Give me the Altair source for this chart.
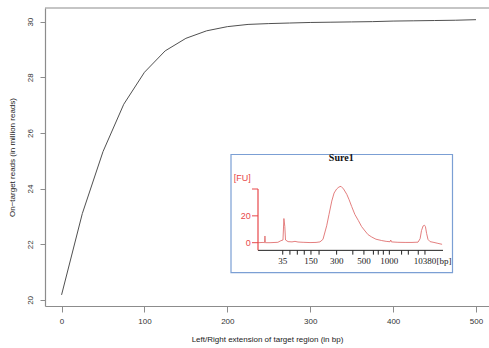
import altair as alt
import pandas as pd

# ---------------- main curve data ----------------
ext_bp = [0, 25, 50, 75, 100, 125, 150, 175, 200, 225, 250, 275, 300,
          325, 350, 375, 400, 425, 450, 475, 500]
reads_m = [20.18, 23.10, 25.33, 27.03, 28.18, 28.95, 29.40, 29.67, 29.82,
           29.90, 29.93, 29.95, 29.97, 29.98, 29.99, 30.00, 30.02, 30.03,
           30.04, 30.05, 30.07]
x_ticks = [0, 100, 200, 300, 400, 500]
y_ticks = [20, 22, 24, 26, 28, 30]

# ---------------- inset (electropherogram) data ----------------
trace_t = [40.0, 42.2, 42.8, 43.0, 43.2, 45.2, 48.6, 49.9, 50.8, 51.2, 51.6,
           51.9, 53.0, 54.7, 56.0, 57.3, 59.5, 62.5, 65.1, 66.8, 68.1, 69.7,
           70.7, 71.9, 72.9, 74.0, 75.0, 75.9, 77.0, 78.4, 79.4, 80.5, 81.9,
           83.4, 84.8, 86.3, 87.6, 89.2, 91.0, 93.5, 95.4, 97.1, 97.4, 97.7,
           100.5, 103.6, 106.6, 109.2, 110.1, 110.7, 111.4, 112.0, 112.4,
           112.9, 113.5, 114.4, 116.1, 117.8, 119.6]
trace_fu = [0.0, 0.2, 0.0, 5.0, 0.0, 0.0, 0.3, 1.5, 2.0, 18.0, 12.0,
            2.0, 0.8, 0.6, 1.0, 0.5, 0.3, 0.1, 0.2, 0.6, 2.5, 12.6,
            21.0, 31.0, 37.0, 40.0, 41.5, 42.0, 40.0, 36.0, 32.0, 27.0, 21.0,
            16.5, 12.0, 8.7, 6.0, 4.2, 2.6, 1.6, 1.0, 0.7, 2.0, 0.6,
            0.3, 0.2, 0.2, 0.4, 3.0, 9.0, 12.5, 13.0, 12.0,
            7.0, 2.5, 0.8, 0.2, -0.5, -1.2]
bp_tick_t = [50.7, 53.8, 57.0, 60.0, 62.9, 66.4, 74.0, 81.0, 85.8, 89.9,
             92.0, 94.2, 96.8, 102.1, 105.0, 109.3, 112.2]
bp_label_t = [50.7, 62.9, 74.0, 85.8, 96.8, 112.2, 120.4]
bp_labels = ["35", "150", "300", "500", "1000", "10380", "[bp]"]
fu_ticks = [0, 20, 40]
fu_label_v = [0, 20]
fu_labels = ["0", "20"]

W, H = 444, 298
GRAY = "#8c8c8c"
RED = "#e8474a"

# ---------------- main chart ----------------
df_main = pd.DataFrame({"ext": ext_bp, "reads": reads_m})
one = pd.DataFrame({"a": [0]})

xs = alt.Scale(domain=[-20, 515.7], nice=False, zero=False)
ys = alt.Scale(domain=[19.78, 30.49], nice=False, zero=False)

main_line = alt.Chart(df_main).mark_line(color="#505050", strokeWidth=1).encode(
    x=alt.X("ext:Q", scale=xs,
            axis=alt.Axis(values=x_ticks, title="Left/Right extension of target region (in bp)",
                          grid=False, domainColor=GRAY, domainWidth=1.2, tickColor=GRAY,
                          tickSize=6, labelPadding=5, labelFont="Liberation Sans",
                          labelFontSize=8, labelColor="#333333", titleFont="Liberation Sans",
                          titleFontSize=8, titleFontWeight="normal", titleColor="#222222",
                          titlePadding=10)),
    y=alt.Y("reads:Q", scale=ys,
            axis=alt.Axis(values=y_ticks, title="On\u2212target reads (in million reads)",
                          grid=False, domainColor=GRAY, domainWidth=1.2, tickColor=GRAY,
                          tickSize=5, labelAngle=270, labelAlign="center", labelBaseline="bottom",
                          labelPadding=6, labelFont="Liberation Sans",
                          labelFontSize=8, labelColor="#333333", titleFont="Liberation Sans",
                          titleFontSize=8, titleFontWeight="normal", titleColor="#222222",
                          titlePadding=10)),
)

top_rule = alt.Chart(one).mark_rule(color=GRAY, strokeWidth=1.2).encode(
    x=alt.value(0), x2=alt.value(W), y=alt.value(0))

main = alt.layer(top_rule, main_line)

# ---------------- inset ----------------
txs = alt.Scale(domain=[40, 120], range=[213, 398], nice=False, zero=False)
tys = alt.Scale(domain=[0, 40], range=[234.7, 181], nice=False, zero=False)

box = alt.Chart(one).mark_rect(fill="white", stroke="#7b9fd4", strokeWidth=1.2).encode(
    x=alt.value(186), x2=alt.value(407.5), y=alt.value(146.5), y2=alt.value(264.7))

df_trace = pd.DataFrame({"t": trace_t, "fu": trace_fu})
trace = alt.Chart(df_trace).mark_line(color="#e07070", strokeWidth=0.9).encode(
    x=alt.X("t:Q", scale=txs, axis=None),
    y=alt.Y("fu:Q", scale=tys, axis=None),
    order="t:Q")

xaxis_df = pd.DataFrame({"t": [40], "t2": [120], "fu": [-5.7]})
xaxis_line = alt.Chart(xaxis_df).mark_rule(color="#222222", strokeWidth=1).encode(
    x=alt.X("t:Q", scale=txs, axis=None), x2="t2:Q",
    y=alt.Y("fu:Q", scale=tys, axis=None))

xt_df = pd.DataFrame({"t": bp_tick_t, "y0": -5.7, "y1": -8.9})
xaxis_ticks = alt.Chart(xt_df).mark_rule(color="#222222", strokeWidth=1).encode(
    x=alt.X("t:Q", scale=txs, axis=None),
    y=alt.Y("y0:Q", scale=tys, axis=None), y2="y1:Q")

xl_df = pd.DataFrame({"t": bp_label_t, "lab": bp_labels, "fu": -14.0})
xaxis_labels = alt.Chart(xl_df).mark_text(font="Liberation Serif", fontSize=9,
                                           color="#222222", baseline="middle").encode(
    x=alt.X("t:Q", scale=txs, axis=None),
    y=alt.Y("fu:Q", scale=tys, axis=None), text="lab:N")

yaxis_df = pd.DataFrame({"t": [40], "fu": [-5.7], "fu2": [40]})
yaxis_line = alt.Chart(yaxis_df).mark_rule(color=RED, strokeWidth=1.2).encode(
    x=alt.X("t:Q", scale=txs, axis=None),
    y=alt.Y("fu:Q", scale=tys, axis=None), y2="fu2:Q")

yt_df = pd.DataFrame({"fu": fu_ticks, "t1": 37.4, "t2": 40.0})
yaxis_ticks = alt.Chart(yt_df).mark_rule(color=RED, strokeWidth=1).encode(
    x=alt.X("t1:Q", scale=txs, axis=None), x2="t2:Q",
    y=alt.Y("fu:Q", scale=tys, axis=None))

yl_df = pd.DataFrame({"fu": fu_label_v + [48.0], "lab": fu_labels + ["[FU]"], "t": 36.9})
yaxis_labels = alt.Chart(yl_df).mark_text(font="Liberation Sans", fontSize=9, color=RED,
                                           align="right", baseline="middle").encode(
    x=alt.X("t:Q", scale=txs, axis=None),
    y=alt.Y("fu:Q", scale=tys, axis=None), text="lab:N")

title_df = pd.DataFrame({"t": [76.0], "fu": [62.8], "lab": ["Sure1"]})
inset_title = alt.Chart(title_df).mark_text(font="Liberation Serif", fontSize=10,
                                            fontWeight="bold", color="#111111",
                                            baseline="middle").encode(
    x=alt.X("t:Q", scale=txs, axis=None),
    y=alt.Y("fu:Q", scale=tys, axis=None), text="lab:N")

inset = alt.layer(box, trace, xaxis_line, xaxis_ticks, xaxis_labels,
                  yaxis_line, yaxis_ticks, yaxis_labels, inset_title)

chart = alt.layer(main, inset).resolve_scale(x="independent", y="independent").properties(
    width=W, height=H,
    autosize=alt.AutoSizeParams(type="none"),
    padding={"left": 45, "top": 8, "right": 0, "bottom": 42},
    background="white",
).configure_view(stroke=None)

chart.save("out.html", embed_options={"renderer": "svg", "actions": False})
